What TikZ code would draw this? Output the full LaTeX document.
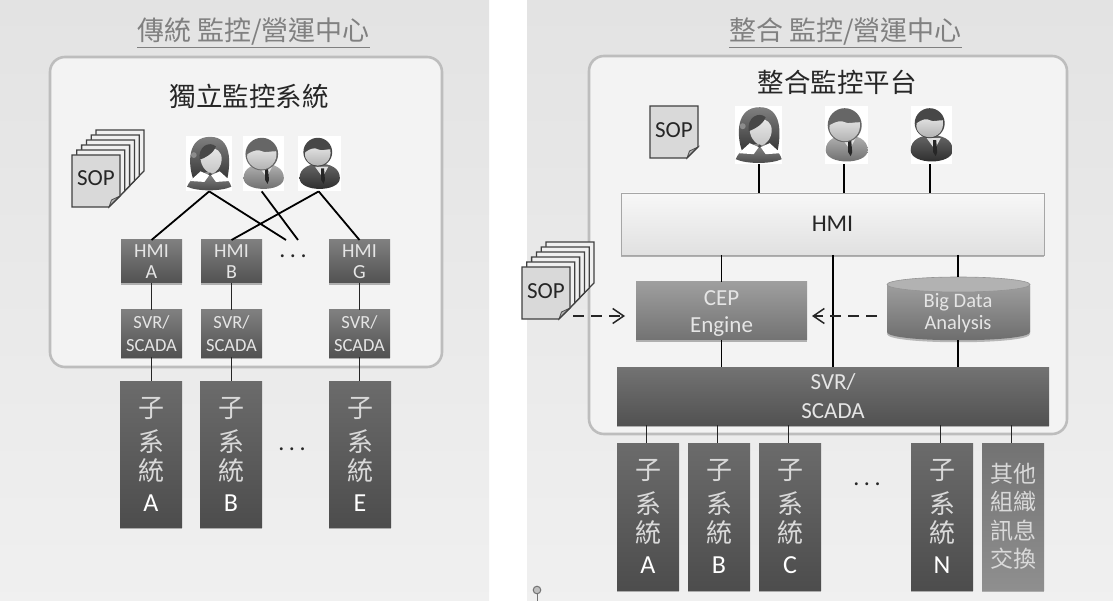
\documentclass[tikz,border=0pt]{standalone}
\usepackage{fontspec}
\setmainfont{Carlito}
\newfontfamily\cjk{Noto Sans CJK TC}
\usetikzlibrary{arrows.meta,shadows,calc}
\definecolor{innerbg}{HTML}{F3F3F3}
\definecolor{edge}{HTML}{BDBDBD}
\definecolor{titlec}{HTML}{808080}
\definecolor{ink}{HTML}{262626}
\newcommand{\fs}[1]{\fontsize{#1}{#1}\selectfont}
\newcommand{\sysl}[1]{子\\[2pt]系\\[-3pt]統\\[-1pt]{\rmfamily\color{white}\fontsize{26}{28}\selectfont #1}}
\newcommand{\threedots}{.\kern4.5pt.\kern4.5pt.}
\tikzset{
  x=1pt,y=-1pt,
  panel/.style={top color=black!11,bottom color=black!6,draw=none},
  inner/.style={fill=innerbg,draw=edge,line width=2.6pt,rounded corners=15pt},
  ttl/.style={text=titlec,font=\cjk\fs{27},anchor=base,inner sep=0},
  head/.style={text=ink,font=\cjk\fs{26.5},anchor=base,inner sep=0},
  boxbase/.style={anchor=north west,inner sep=0,outer sep=0,align=center,text=white,
    drop shadow={shadow xshift=0pt,shadow yshift=-2pt,fill=black,opacity=.28}},
  hmibox/.style={boxbase,minimum width=61pt,minimum height=43pt,top color=black!50,bottom color=black!68,font=\fs{20},text=white!90!black},
  darkbox/.style={boxbase,minimum width=61pt,top color=black!50,bottom color=black!68,font=\fs{18.5},text=white!90!black},
  sysbox/.style={boxbase,minimum width=62pt,minimum height=146pt,top color=black!58,bottom color=black!70,text=white!85!black,font=\cjk\fontsize{26}{32}\selectfont},
  conn/.style={draw=black!85,line width=1pt},
  thick conn/.style={draw=black,line width=1.8pt},
  dasharrow/.style={draw=black!85,line width=1.5pt,dash pattern=on 11pt off 7pt,-{Straight Barb[length=11pt,width=15pt]}},
  persbg/.style={fill=white,draw=none,inner sep=0,anchor=north west},
  sopline/.style={draw=black!75,line width=1.3pt},
  doth/.style={font=\fs{24},text=ink,inner sep=0},
  soplabel/.style={inner sep=0,font=\fs{23},text=ink},
}
\newcommand{\sopsheet}[2]{%
  \fill[black!15] (#1,#2) -- ++(48,0) -- ++(0,41) -- ++(-11,11) -- ++(-37,0) -- cycle;
  \fill[black!30,draw=black!70,line width=.8pt] (#1+37,#2+52) -- ++(2.5,-7) -- ++(8.5,-4) -- cycle;
  \draw[sopline] (#1,#2) -- ++(48,0) -- ++(0,41) -- ++(-11,11) -- ++(-37,0) -- cycle;
}
\newcommand{\sopstack}[2]{%
  \foreach \i in {5,4,3,2,1}{
    \fill[black!6,sopline] ($(#1,#2)+(\i*4.8,-\i*5)$) -- ++(48,0) -- ++(0,41) -- ++(-11,11) -- ++(-37,0) -- cycle;
  }
  \sopsheet{#1}{#2}
}
\newcommand{\womanp}[2]{\begin{scope}[shift={(#1)},scale=#2]
  \path[top color=black!50,bottom color=black!78] (-17,15) .. controls (-22,0) and (-23,-28) .. (1,-28) .. controls (24,-28) and (22,0) .. (19,15) -- cycle;
  \path[top color=black!45,bottom color=black!72] (-23,24) .. controls (-19,14) and (-10,10) .. (1,8) .. controls (12,10) and (20,14) .. (23,24) .. controls (12,29) and (-12,29) .. (-23,24) -- cycle;
  \path[top color=black!8,bottom color=black!22] (-9,-6) .. controls (-9,-20) and (13,-20) .. (13,-5) .. controls (13,3) and (7,10) .. (3,10) .. controls (-2,10) and (-9,3) .. (-9,-6) -- cycle;
  \fill[black!72] (-10,-4) .. controls (-5,-6) and (4,-10) .. (7,-18) .. controls (0,-24) and (-12,-18) .. (-10,-4) -- cycle;
  \fill[black!45] (-16,-9) circle (3);
  \fill[white] (-20,18) -- (-9,8) -- (0,12) -- (-5,19) -- cycle;
  \fill[white] (22,18) -- (11,8) -- (2,12) -- (7,19) -- cycle;
  \fill[black!70] (1,11) circle (1.8);
\end{scope}}
\newcommand{\manp}[7]{\begin{scope}[shift={(#1)},scale=#2]
  \path[top color=#3,bottom color=#4] (-21,15) .. controls (-21,4) and (-10,0) .. (0,0) .. controls (10,0) and (21,4) .. (21,15) .. controls (21,30) and (-21,30) .. (-21,15) -- cycle;
  \fill[black!12] (-5,3) -- (9,3) -- (3,14) -- cycle;
  \fill[black!85] (1.5,5) -- (4.5,5) -- (5.5,17) -- (4,21) -- (1.5,17) -- cycle;
  \fill[#5] (-2,#7) circle (#6);
  \path[top color=black!12,bottom color=black!30] (-2-#6+2,#7) .. controls (-2-#6/2,#7-4) and (-5,#7-5) .. (-2,#7-3) .. controls (2,#7-1) and (6,#7-3) .. (-2+#6-2,#7-3) .. controls (-2+#6,#7+8) and (-2+#6/2,#7+#6-1) .. (-2,#7+#6-1) .. controls (-2-#6/2,#7+#6-1) and (-2-#6,#7+8) .. (-2-#6+2,#7) -- cycle;
\end{scope}}
\begin{document}
\begin{tikzpicture}
\useasboundingbox (0,0) rectangle (1113,601);
\fill[white] (0,0) rectangle (1113,601);
\path[panel] (0,0) rectangle (489,601);
\path[panel] (527,0) rectangle (1113,601);
\path[inner] (50,57) rectangle (442,367);
\path[inner] (589,56) rectangle (1067,434);

\node[ttl] (t1) at (253.5,41) {\underline{傳統 監控/營運中心}};
\node[ttl] (t2) at (845.5,41) {\underline{整合 監控/營運中心}};
\node[head] (h1) at (249,107) {獨立監控系統};
\node[head] (h2) at (837,93) {整合監控平台};

\sopstack{72}{155}
\node[soplabel] (sopa) at (96,178) {SOP};

\node[persbg,minimum width=46pt,minimum height=55pt] (pa) at (186,136) {};
\node[persbg,minimum width=41pt,minimum height=55pt] (pb) at (243,136) {};
\node[persbg,minimum width=43pt,minimum height=55pt] (pc) at (298,136) {};
\womanp{pa.center}{.96}
\manp{pb.center}{.96}{black!30}{black!60}{black!60}{17}{-10}
\manp{pc.center}{.96}{black!60}{black!85}{black!72}{15}{-12}

\node[hmibox] (ha) at (121,240) {HMI\\[1pt]A};
\node[hmibox] (hb) at (201,240) {HMI\\[1pt]B};
\node[hmibox] (hg) at (329,240) {HMI\\[1pt]G};
\node[darkbox,minimum height=47pt] (sa) at (121,310) {SVR/\\[4pt]SCADA};
\node[darkbox,minimum height=47pt] (sb) at (201,310) {SVR/\\[4pt]SCADA};
\node[darkbox,minimum height=47pt] (sg) at (329,310) {SVR/\\[4pt]SCADA};
\node[sysbox] (ya) at (120,381) {\sysl{A}};
\node[sysbox] (yb) at (200,381) {\sysl{B}};
\node[sysbox] (ye) at (329,381) {\sysl{E}};
\node[doth] (d1) at (293,256) {\threedots};
\node[doth] (d2) at (292,449) {\threedots};

\coordinate (f1) at (286,240);
\coordinate (f2) at (298,240);
\draw[thick conn] (pa.south) -- (ha.north);
\draw[thick conn] (pa.south) -- (f1);
\draw[thick conn] ([xshift=-2pt]pb.south) -- (f2);
\draw[thick conn] ([xshift=-1pt]pc.south) -- (hb.north);
\draw[thick conn] ([xshift=-1pt]pc.south) -- (hg.north);
\foreach \a/\b in {ha/sa,hb/sb,hg/sg,sa/ya,sb/yb,sg/ye}{\draw[conn] (\a.south) -- (\a.south |- \b.north);}

\sopsheet{650}{106}
\node[soplabel] (sopb) at (674,130) {SOP};
\sopstack{522}{267}
\node[soplabel] (sopc) at (546,291) {SOP};

\node[persbg,minimum width=47pt,minimum height=58pt] (qa) at (735,106) {};
\node[persbg,minimum width=43pt,minimum height=58pt] (qb) at (825,106) {};
\node[persbg,minimum width=41pt,minimum height=58pt] (qc) at (911,106) {};
\womanp{qa.center}{1}
\manp{qb.center}{1}{black!30}{black!60}{black!60}{17}{-10}
\manp{qc.center}{1}{black!60}{black!85}{black!72}{15}{-12}

\node[boxbase,minimum width=423pt,minimum height=62pt,top color=white!97!black,bottom color=black!12,draw=black!35,line width=.7pt,text=ink,font=\fs{24}] (hmi) at (621,193) {HMI};
\node[boxbase,minimum width=171pt,minimum height=58pt,top color=black!38,bottom color=black!55,font=\fs{23},text=white!90!black] (cep) at (636,282) {\rule{0pt}{20pt}CEP\\[4pt]Engine};
\node[inner sep=0,minimum width=143pt,minimum height=63pt,anchor=north west] (big) at (887,277) {};
\path[top color=black!38,bottom color=black!58,drop shadow={shadow xshift=0pt,shadow yshift=-2pt,fill=black,opacity=.25}]
  (887,284) -- (887,332) .. controls (887,343) and (1030,343) .. (1030,332) -- (1030,284) -- cycle;
\draw[black!42,line width=.6pt,fill=black!30] (958.5,284.5) ellipse[x radius=71.5,y radius=7.5];
\node[font=\fs{20.5},text=white!90!black,align=center,inner sep=0] (bigt) at (958,313) {Big Data\\[2pt]Analysis};
\node[boxbase,minimum width=432pt,minimum height=58pt,top color=black!55,bottom color=black!68,font=\fs{23},text=white!90!black] (svr) at (617,367) {SVR/\\[6pt]SCADA};
\node[sysbox,minimum height=147pt] (za) at (617,443) {\sysl{A}};
\node[sysbox,minimum height=147pt] (zb) at (688,443) {\sysl{B}};
\node[sysbox,minimum height=147pt] (zc) at (759,443) {\sysl{C}};
\node[sysbox,minimum height=147pt] (zn) at (911,443) {\sysl{N}};
\node[boxbase,minimum width=62pt,minimum height=147pt,top color=black!55,bottom color=black!44,text=white!85!black,font=\cjk\fontsize{23}{28.5}\selectfont] (zo) at (982,443) {其他\\組織\\訊息\\交換};
\node[doth] (d3) at (867,484) {\threedots};

\draw[thick conn] ([xshift=.5pt]qa.south) -- ([xshift=.5pt]qa.south |- hmi.north);
\draw[thick conn] ([xshift=-2.5pt]qb.south) -- ([xshift=-2.5pt]qb.south |- hmi.north);
\draw[thick conn] (qc.south) ++(-1.5,0) coordinate (qcx) -- (qcx |- hmi.north);
\draw[thick conn] (hmi.south -| cep.north) -- (cep.north);
\draw[thick conn] (cep.south) -- (cep.south |- svr.north);
\coordinate (hx) at (833,255);
\draw[thick conn] (hx) -- (hx |- svr.north);
\coordinate (hy) at (958,255);
\draw[thick conn] (hy) -- (hy |- big.north);
\draw[thick conn] (hy |- big.south) -- (hy |- svr.north);
\foreach \b in {za,zb,zc,zn,zo}{\draw[conn] ([xshift=-2pt]\b.north |- svr.south) -- ([xshift=-2pt]\b.north);}

\coordinate (da) at (573,316);
\draw[dasharrow,shorten >=11pt] (da) -- (cep.west |- da);
\coordinate (db) at (877,316);
\draw[dasharrow,shorten >=5pt] (db) -- (cep.east |- db);

\draw[black!55,line width=1pt,fill=black!25] (537,590) circle (3.8);
\draw[black!55,line width=1pt] (537,594) -- (537,601);
\end{tikzpicture}
\end{document}
